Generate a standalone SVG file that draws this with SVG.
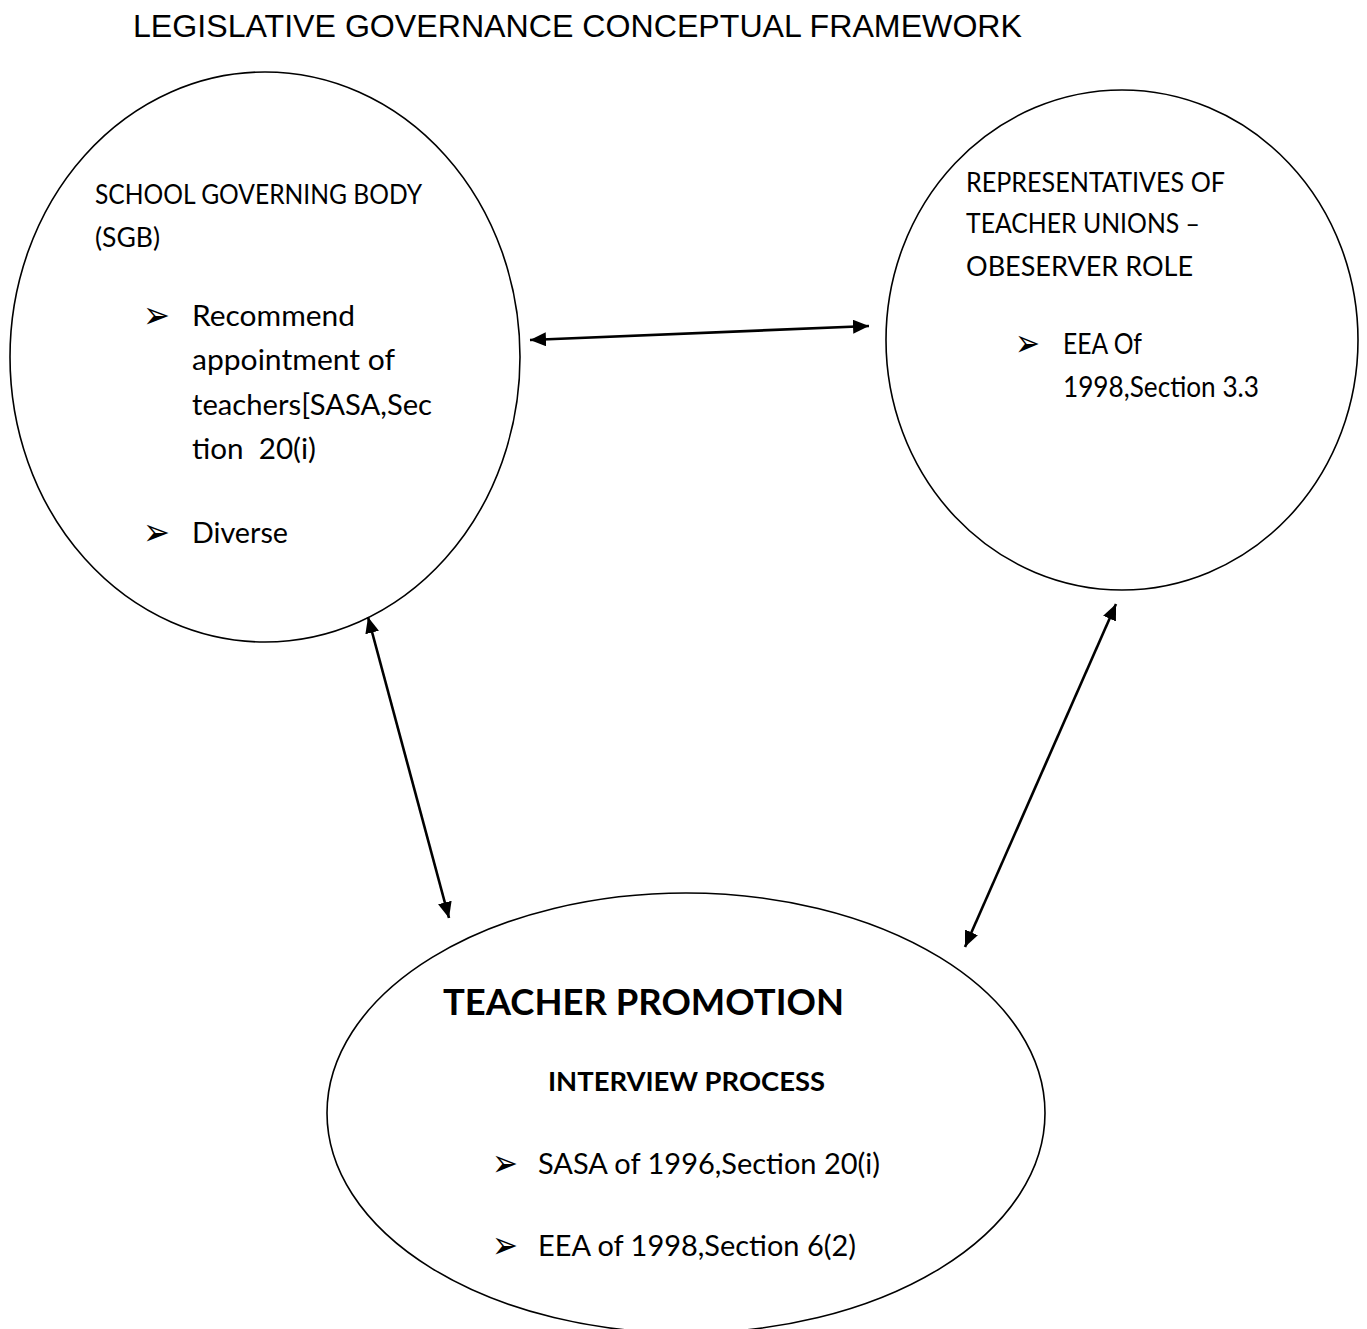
<svg xmlns="http://www.w3.org/2000/svg" width="1367" height="1329" viewBox="0 0 1367 1329">
  <style>
    .shape { fill: #ffffff; stroke: #000000; stroke-width: 1.6; }
    .link { fill: none; stroke: #000000; stroke-width: 2.6; marker-start: url(#head); marker-end: url(#head); }
    .title { font-family: "Liberation Sans", Arial, sans-serif; font-size: 32px; fill: #000; }
    .head { font-family: Lato, "Liberation Sans", sans-serif; font-size: 27px; fill: #000; }
    .item { font-family: Lato, "Liberation Sans", sans-serif; font-size: 29px; fill: #000; white-space: pre; }
    .big { font-family: Lato, "Liberation Sans", sans-serif; font-weight: bold; fill: #000; }
    .bullet { font-family: "DejaVu Sans", sans-serif; font-size: 38px; fill: #000; }
  </style>
  <defs>
    <marker id="head" markerUnits="userSpaceOnUse" markerWidth="18" markerHeight="16" refX="16" refY="7" orient="auto-start-reverse">
      <path d="M0,0 L16,7 L0,14 z" fill="#000"/>
    </marker>
  </defs>

  <rect width="1367" height="1329" fill="#ffffff"/>

  <text class="title" x="133" y="37" textLength="889" lengthAdjust="spacingAndGlyphs">LEGISLATIVE GOVERNANCE CONCEPTUAL FRAMEWORK</text>

  <!-- School governing body -->
  <g id="sgb">
    <ellipse class="shape" cx="265" cy="357" rx="255" ry="285"/>
    <text class="head" x="95" y="204" textLength="327" lengthAdjust="spacingAndGlyphs">SCHOOL GOVERNING BODY</text>
    <text class="head" x="95" y="247" textLength="65" lengthAdjust="spacingAndGlyphs">(SGB)</text>
    <text class="bullet" x="143" y="328" textLength="27" lengthAdjust="spacingAndGlyphs">➢</text>
    <text class="item" x="192" y="326" textLength="163" lengthAdjust="spacingAndGlyphs">Recommend</text>
    <text class="item" x="192" y="370" textLength="203" lengthAdjust="spacingAndGlyphs">appointment of</text>
    <text class="item" x="192" y="415" textLength="240" lengthAdjust="spacingAndGlyphs">teachers[SASA,Sec</text>
    <text class="item" x="192" y="459" textLength="124" lengthAdjust="spacingAndGlyphs">tion  20(i)</text>
    <text class="bullet" x="143" y="545" textLength="27" lengthAdjust="spacingAndGlyphs">➢</text>
    <text class="item" x="192" y="543" textLength="96" lengthAdjust="spacingAndGlyphs">Diverse</text>
  </g>

  <!-- Teacher union representatives -->
  <g id="unions">
    <ellipse class="shape" cx="1122" cy="340" rx="236" ry="250"/>
    <text class="head" x="966" y="192" textLength="259" lengthAdjust="spacingAndGlyphs">REPRESENTATIVES OF</text>
    <text class="head" x="966" y="233" textLength="234" lengthAdjust="spacingAndGlyphs">TEACHER UNIONS –</text>
    <text class="head" x="966" y="276" textLength="227" lengthAdjust="spacingAndGlyphs">OBESERVER ROLE</text>
    <text class="bullet" x="1015" y="356" textLength="25" lengthAdjust="spacingAndGlyphs">➢</text>
    <text class="item" x="1063" y="354" textLength="79" lengthAdjust="spacingAndGlyphs">EEA Of</text>
    <text class="item" x="1063" y="397" textLength="196" lengthAdjust="spacingAndGlyphs">1998,Section 3.3</text>
  </g>

  <!-- Teacher promotion -->
  <g id="promotion">
    <ellipse class="shape" cx="686" cy="1113" rx="359" ry="220"/>
    <text class="big" x="443" y="1015" font-size="37" textLength="401" lengthAdjust="spacingAndGlyphs">TEACHER PROMOTION</text>
    <text class="big" x="548" y="1091" font-size="26" textLength="277" lengthAdjust="spacingAndGlyphs">INTERVIEW PROCESS</text>
    <text class="bullet" x="492" y="1176" textLength="26" lengthAdjust="spacingAndGlyphs">➢</text>
    <text class="item" x="538" y="1174" textLength="342" lengthAdjust="spacingAndGlyphs">SASA of 1996,Section 20(i)</text>
    <text class="bullet" x="492" y="1258" textLength="26" lengthAdjust="spacingAndGlyphs">➢</text>
    <text class="item" x="538" y="1256" textLength="318" lengthAdjust="spacingAndGlyphs">EEA of 1998,Section 6(2)</text>
  </g>

  <!-- Two-way connectors -->
  <g id="connectors">
    <line class="link" x1="530" y1="340" x2="869" y2="326"/>
    <line class="link" x1="368" y1="617" x2="449" y2="918"/>
    <line class="link" x1="1116" y1="604" x2="965" y2="947"/>
  </g>
</svg>
